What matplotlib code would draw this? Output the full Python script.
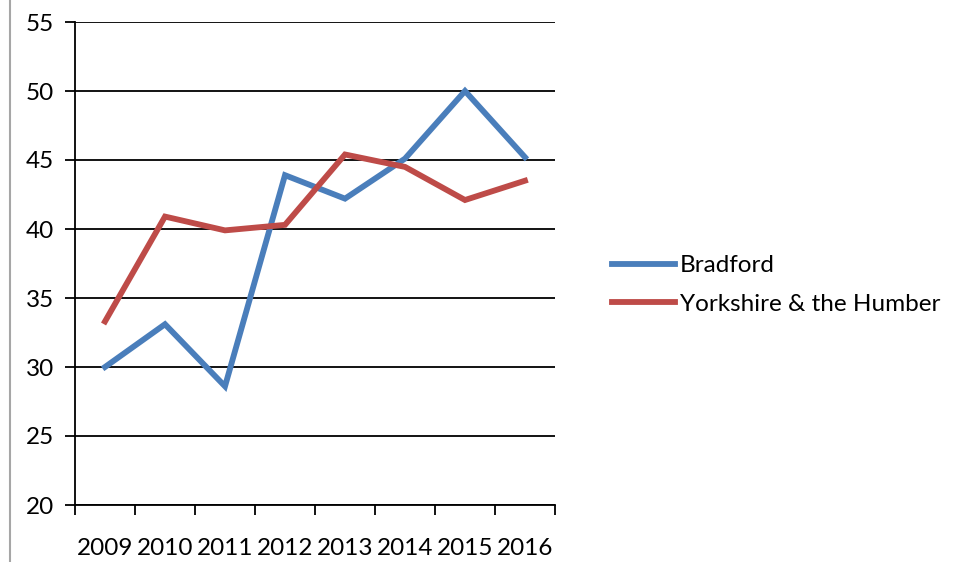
import matplotlib
matplotlib.use("Agg")
import matplotlib.pyplot as plt
from matplotlib.lines import Line2D

# values
years = ["2009", "2010", "2011", "2012", "2013", "2014", "2015", "2016"]
bradford = [30.0, 33.1, 28.6, 43.9, 42.2, 45.1, 50.0, 45.2]
yorkshire = [33.3, 40.9, 39.9, 40.3, 45.4, 44.5, 42.1, 43.5]
yticks = [20, 25, 30, 35, 40, 45, 50, 55]

blue = "#4A7EBB"
red = "#BE4B48"
fs = 17.5

plt.rcParams["font.family"] = ["Lato", "DejaVu Sans"]

fig = plt.figure(figsize=(9.61, 5.62), dpi=100)
ax = fig.add_axes([75 / 961, 57 / 562, 480 / 961, 483 / 562])

x = range(len(years))
ax.plot(x, bradford, color=blue, lw=4.2, label="Bradford", solid_joinstyle="miter")
ax.plot(x, yorkshire, color=red, lw=4.2, label="Yorkshire & the Humber", solid_joinstyle="miter")

ax.set_xlim(-0.5, len(years) - 0.5)
ax.set_ylim(20, 55)
ax.set_yticks(yticks)
ax.set_yticklabels([str(t) for t in yticks], fontsize=fs)
ax.yaxis.grid(True, color="black", lw=1.3)
ax.set_axisbelow(True)

# category ticks sit between years, labels at the centres
ax.set_xticks([i - 0.5 for i in range(len(years) + 1)])
ax.set_xticklabels([])
ax.set_xticks(list(x), minor=True)
ax.set_xticklabels(years, minor=True, fontsize=fs)
ax.tick_params(axis="x", which="major", direction="out", length=7, width=1.3, color="black")
ax.tick_params(axis="x", which="minor", length=0, pad=24)
ax.tick_params(axis="y", direction="out", length=7, width=1.3, pad=8)

for s in ["top", "right"]:
    ax.spines[s].set_visible(False)
for s in ["left", "bottom"]:
    ax.spines[s].set_color("black")
    ax.spines[s].set_linewidth(1.3)

ax.legend(loc="center left", bbox_to_anchor=(590 / 961, 1 - 285 / 562),
          bbox_transform=fig.transFigure, frameon=False, fontsize=fs,
          handlelength=2.6, handletextpad=0.2, labelspacing=0.7)

# thin grey border line at the left of the picture
fig.add_artist(Line2D([10 / 961, 10 / 961], [0, 1], transform=fig.transFigure,
                      color="#A6A6A6", lw=1.5))

fig.savefig("out.png", dpi=100)
